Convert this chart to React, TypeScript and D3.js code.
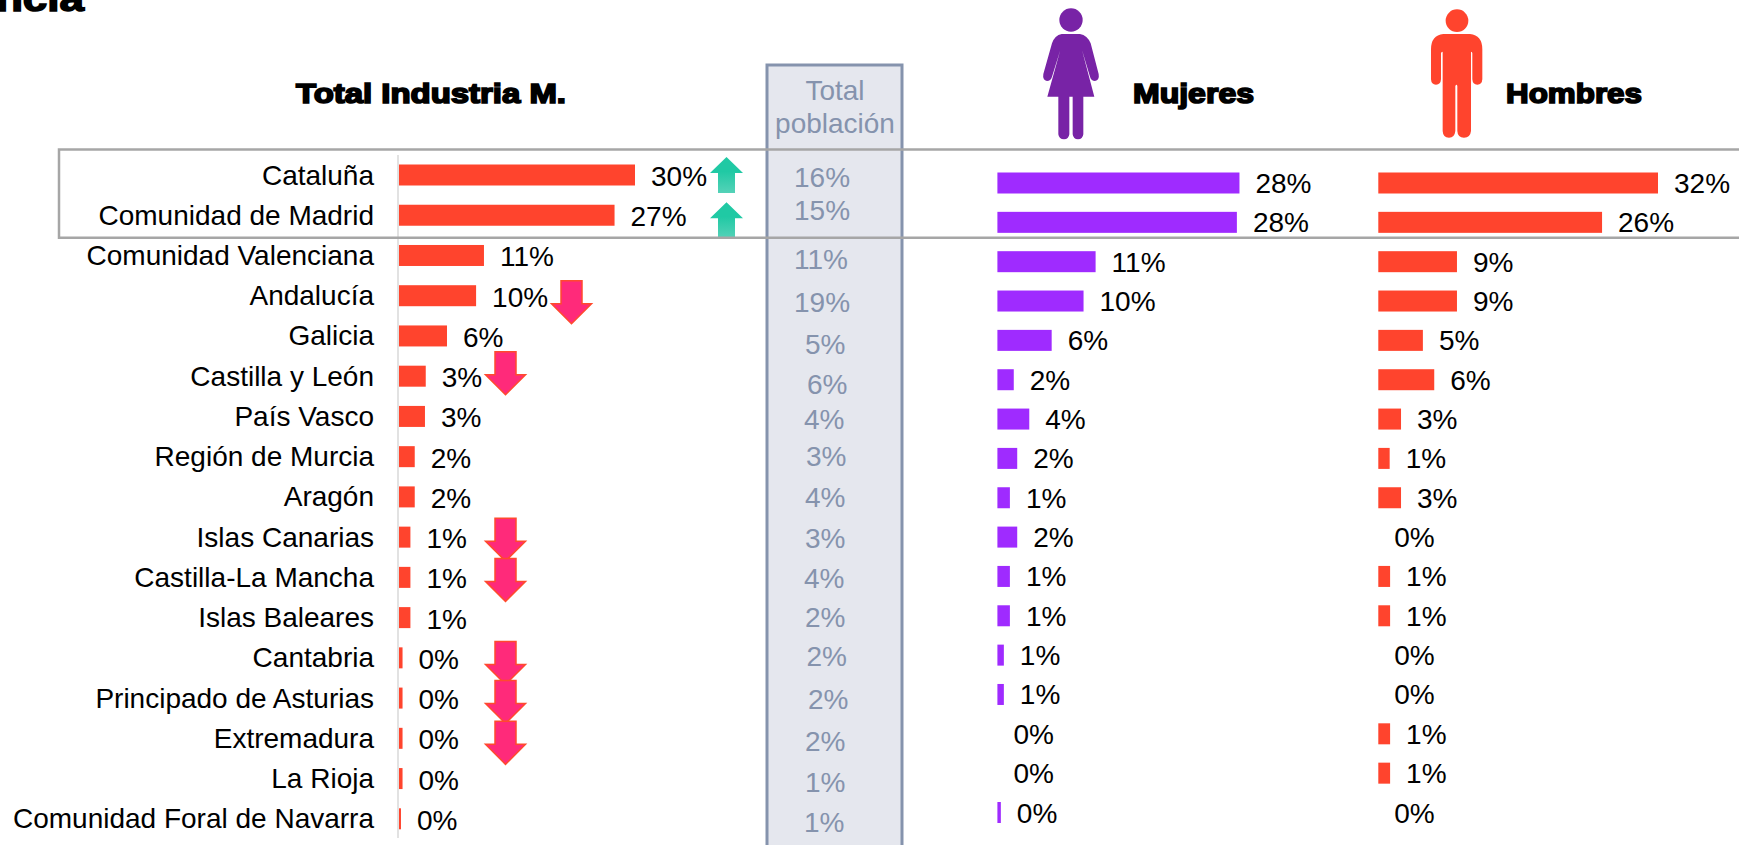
import React from 'react';
import * as d3 from 'd3';

const WIDTH = 1739;
const HEIGHT = 845;

const regiones = ['Cataluña', 'Comunidad de Madrid', 'Comunidad Valenciana', 'Andalucía', 'Galicia', 'Castilla y León', 'País Vasco', 'Región de Murcia', 'Aragón', 'Islas Canarias', 'Castilla-La Mancha', 'Islas Baleares', 'Cantabria', 'Principado de Asturias', 'Extremadura', 'La Rioja', 'Comunidad Foral de Navarra'];

// values in %
const totalIndustria = [30, 27.4, 10.8, 9.8, 6.1, 3.4, 3.3, 2, 2, 1.45, 1.45, 1.45, 0.45, 0.45, 0.45, 0.45, 0.25];
const mujeres = [28.1, 27.8, 11.4, 10, 6.3, 1.9, 3.7, 2.3, 1.45, 2.3, 1.45, 1.45, 0.75, 0.75, 0, 0, 0.4];
const hombres = [32, 25.6, 9, 9, 5.1, 6.4, 2.6, 1.3, 2.6, 0, 1.35, 1.35, 0, 0, 1.35, 1.35, 0];
const poblacion = [16, 15, 11, 19, 5, 6, 4, 3, 4, 3, 4, 2, 2, 2, 2, 1, 1];

// the population labels are hand placed in the original
const poblacionX = [794, 794, 794, 794, 805, 807, 804, 806, 805, 805, 804, 805, 806.5, 808, 805, 805, 804];
const poblacionDy = [12, 5, 14, 16, 18, 18, 13, 9.6, 10.4, 11.2, 11, 9.8, 8.6, 11.4, 12.2, 13, 12.8];

const flechasSube = [{ region: 'Cataluña', dy: -18 }, { region: 'Comunidad de Madrid', dy: -13 }];
const flechasBaja = [
  { region: 'Andalucía', dx: 66, dy: -15 },
  { region: 'Castilla y León', dx: 0, dy: -24.5 },
  { region: 'Islas Canarias', dx: 0, dy: -19 },
  { region: 'Castilla-La Mancha', dx: 0, dy: -19 },
  { region: 'Cantabria', dx: 0, dy: -16.4 },
  { region: 'Principado de Asturias', dx: 0, dy: -17.6 },
  { region: 'Extremadura', dx: 0, dy: -17 },
];

const RED = '#ff442d';
const PURPLE = '#9f2bff';
const SLATE = '#8593ad';
const FONT = '"Liberation Sans", Arial, sans-serif';

const yIzq = d3.scalePoint<string>().domain(regiones).range([175, 818.8]);
const yDer = d3.scalePoint<string>().domain(regiones).range([183, 812.5]);

const xTotal = d3.scaleLinear().domain([0, 30]).range([399, 635]);
const xMujeres = d3.scaleLinear().domain([0, 28]).range([997.4, 1238.6]);
const xHombres = d3.scaleLinear().domain([0, 32]).range([1378.3, 1658]);

const BAR_H = 21;
const pct = (v: number) => d3.format('.0f')(v) + '%';

const Barras = ({ valores, x, y, color, dy }: any) => (
  <g>
    {regiones.map((r, i) => (
      <g key={r}>
        {valores[i] > 0 && (
          <rect x={x(0)} y={y(r) - BAR_H / 2} width={x(valores[i]) - x(0)} height={BAR_H} fill={color} />
        )}
        <text x={x(valores[i]) + 16} y={y(r) + dy} fontSize={28} fill="#000">{pct(valores[i])}</text>
      </g>
    ))}
  </g>
);

const Titulo = ({ x, w, children }: any) => (
  <text x={x} y={103} fontSize={28} fontWeight="bold" stroke="#000" strokeWidth={1.7} fill="#000" textLength={w} lengthAdjust="spacingAndGlyphs">{children}</text>
);

// pictograms traced at 3x, hence the scale(1/3)
const MUJER = 'M95 102 L150 102 Q172 106 182 130 L206 222 Q209 240 195 243 Q184 243 180 230 L156 150 L193 290 L160 290 L160 403 Q158 418 144 418 Q130 418 128 403 L128 290 L118 290 L118 403 Q116 418 102 418 Q87 418 85 403 L85 290 L52 290 L91 150 L66 230 Q62 243 51 243 Q37 240 40 222 L66 130 Q74 106 95 102 Z';
const HOMBRE = 'M85 102 L165 102 Q202 106 202 148 L202 238 Q201 254 187 254 Q173 254 172 238 L172 160 Q172 155 168 155 L168 393 Q166 413 147 413 Q128 413 127 393 L127 258 Q125 250 121 258 L121 393 Q119 413 102 413 Q84 413 83 393 L83 155 Q78 155 78 160 L78 238 Q77 254 63 254 Q49 254 48 238 L48 148 Q48 106 85 102 Z';

export default function App() {
  const flechaBaja = (cx: number, top: number) => {
    const p = d3.path();
    p.moveTo(cx - 10.5, top);
    p.lineTo(cx + 10.5, top);
    p.lineTo(cx + 10.5, top + 23);
    p.lineTo(cx + 20, top + 23);
    p.lineTo(cx, top + 43);
    p.lineTo(cx - 20, top + 23);
    p.lineTo(cx - 10.5, top + 23);
    p.closePath();
    return p.toString();
  };
  const flechaSube = (cx: number, top: number) => {
    const p = d3.path();
    p.moveTo(cx, top);
    p.lineTo(cx + 16.5, top + 16);
    p.lineTo(cx + 8.5, top + 16);
    p.lineTo(cx + 8.5, top + 36);
    p.lineTo(cx - 8.5, top + 36);
    p.lineTo(cx - 8.5, top + 16);
    p.lineTo(cx - 16.5, top + 16);
    p.closePath();
    return p.toString();
  };

  return (
    <svg width={WIDTH} height={HEIGHT} style={{ position: 'absolute', left: 0, top: 0, display: 'block' }} fontFamily={FONT}>
      <defs>
        <linearGradient id="verde" x1="0" y1="0" x2="0" y2="1">
          <stop offset="0.4" stopColor="#20c9a4" />
          <stop offset="1" stopColor="#55d2b8" />
        </linearGradient>
      </defs>
      <rect width={WIDTH} height={HEIGHT} fill="#fff" />

      <text x={-4} y={10.5} fontSize={36} fontWeight="bold" stroke="#000" strokeWidth={1.5} textLength={88} lengthAdjust="spacingAndGlyphs">ncia</text>

      <Titulo x={296} w={270}>Total Industria M.</Titulo>
      <Titulo x={1133} w={121}>Mujeres</Titulo>
      <Titulo x={1506} w={136}>Hombres</Titulo>

      <g transform="translate(1030,0) scale(0.3333)" fill="#7823a6">
        <circle cx={123} cy={60} r={35} />
        <path d={MUJER} />
      </g>
      <g transform="translate(1415,0) scale(0.3333)" fill={RED}>
        <circle cx={126} cy={62} r={34} />
        <path d={HOMBRE} />
      </g>

      {/* columna total poblacion */}
      <rect x={767} y={65} width={135} height={HEIGHT} fill="#e5e7ee" stroke={SLATE} strokeWidth={3} />
      <text x={835} y={100} fontSize={28} fill={SLATE} textAnchor="middle">Total</text>
      <text x={835} y={133} fontSize={28} fill={SLATE} textAnchor="middle">población</text>
      {regiones.map((r, i) => (
        <text key={r} x={poblacionX[i]} y={yIzq(r)! + poblacionDy[i]} fontSize={28} fill={SLATE}>{poblacion[i] + '%'}</text>
      ))}

      <line x1={398} x2={398} y1={155} y2={838} stroke="#d9d9d9" strokeWidth={1.5} />

      {regiones.map((r) => (
        <text key={r} x={374} y={yIzq(r)! + 9.5} fontSize={28} textAnchor="end" fill="#000">{r}</text>
      ))}

      <Barras valores={totalIndustria} x={xTotal} y={yIzq} color={RED} dy={11} />
      <Barras valores={mujeres} x={xMujeres} y={yDer} color={PURPLE} dy={10} />
      <Barras valores={hombres} x={xHombres} y={yDer} color={RED} dy={10} />

      {flechasSube.map((f) => (
        <path key={f.region} d={flechaSube(726.5, yIzq(f.region)! + f.dy)} fill="url(#verde)" />
      ))}
      {flechasBaja.map((f) => (
        <path key={f.region} d={flechaBaja(505.5 + f.dx, yIzq(f.region)! + f.dy)} fill="#ff2a7a" stroke="#ff4a2e" strokeWidth={1.5} />
      ))}

      {/* recuadro de las dos primeras filas, abierto a la derecha */}
      <path d={`M${WIDTH} 149.5 L59 149.5 L59 237.7 L${WIDTH} 237.7`} fill="none" stroke="#a6a6a6" strokeWidth={2.5} />
    </svg>
  );
}
